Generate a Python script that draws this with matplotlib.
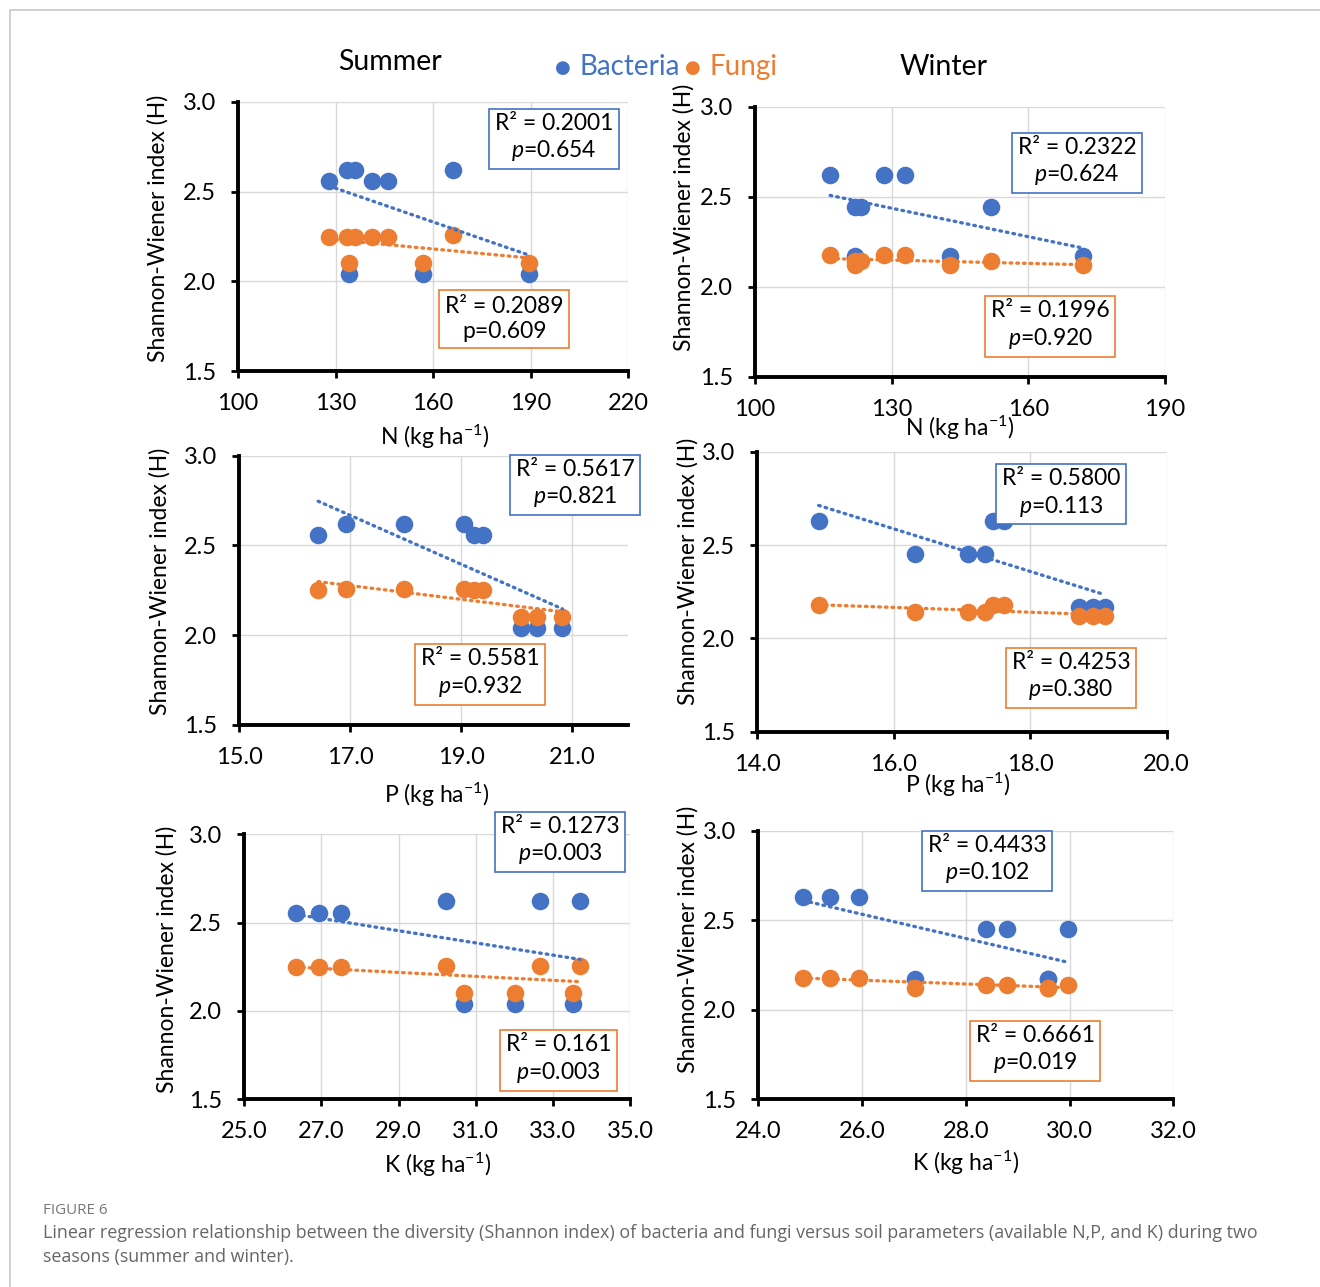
import numpy as np
import matplotlib
matplotlib.use("Agg")
import matplotlib.pyplot as plt
from matplotlib.patches import Rectangle

plt.rcParams['font.family'] = ['Lato', 'DejaVu Sans']
plt.rcParams['mathtext.fontset'] = 'custom'
plt.rcParams['mathtext.rm'] = 'Lato'
plt.rcParams['mathtext.it'] = 'Lato:italic'
plt.rcParams['mathtext.bf'] = 'Lato:bold'

BLUE = '#4472C4'
ORANGE = '#ED7D31'

# ---------------- data ----------------
# Summer N
sN_x_bac = [128, 133.4, 136, 141.2, 146.2, 166.2, 134.2, 157, 189.5]
sN_y_bac = [2.56, 2.62, 2.62, 2.56, 2.56, 2.62, 2.04, 2.04, 2.04]
sN_x_fun = [128, 133.4, 136, 141.2, 146.2, 166.2, 134.2, 157, 189.5]
sN_y_fun = [2.25, 2.25, 2.25, 2.25, 2.25, 2.26, 2.10, 2.10, 2.10]
# Winter N
wN_x_bac = [116.5, 128.3, 133, 122, 123.2, 151.8, 122, 142.7, 172]
wN_y_bac = [2.62, 2.62, 2.62, 2.445, 2.445, 2.445, 2.17, 2.17, 2.17]
wN_x_fun = [116.5, 128.3, 133, 122, 123.2, 151.8, 122, 142.7, 172]
wN_y_fun = [2.175, 2.175, 2.175, 2.14, 2.14, 2.14, 2.12, 2.12, 2.12]
# Summer P
sP_x_bac = [16.42, 16.93, 17.96, 19.05, 19.22, 19.38, 20.08, 20.36, 20.82]
sP_y_bac = [2.56, 2.62, 2.62, 2.62, 2.56, 2.56, 2.04, 2.04, 2.04]
sP_x_fun = [16.42, 16.93, 17.96, 19.05, 19.22, 19.38, 20.08, 20.36, 20.82]
sP_y_fun = [2.25, 2.26, 2.26, 2.26, 2.25, 2.25, 2.10, 2.10, 2.10]
# Winter P
wP_x_bac = [14.9, 17.45, 17.61, 16.31, 17.09, 17.33, 18.72, 18.92, 19.09]
wP_y_bac = [2.63, 2.63, 2.63, 2.45, 2.45, 2.45, 2.17, 2.17, 2.17]
wP_x_fun = [14.9, 17.45, 17.61, 16.31, 17.09, 17.33, 18.72, 18.92, 19.09]
wP_y_fun = [2.18, 2.18, 2.18, 2.14, 2.14, 2.14, 2.12, 2.12, 2.12]
# Summer K
sK_x_bac = [26.34, 26.93, 27.5, 30.22, 32.66, 33.7, 30.7, 32.03, 33.52]
sK_y_bac = [2.556, 2.556, 2.556, 2.62, 2.62, 2.62, 2.04, 2.04, 2.04]
sK_x_fun = [26.34, 26.93, 27.5, 30.22, 32.66, 33.7, 30.7, 32.03, 33.52]
sK_y_fun = [2.25, 2.25, 2.25, 2.255, 2.255, 2.255, 2.10, 2.10, 2.10]
# Winter K
wK_x_bac = [24.87, 25.39, 25.94, 28.39, 28.79, 29.97, 27.02, 29.59, 29.59]
wK_y_bac = [2.628, 2.628, 2.628, 2.45, 2.45, 2.45, 2.17, 2.17, 2.17]
wK_x_fun = [24.87, 25.39, 25.94, 28.39, 28.79, 29.97, 27.02, 29.59, 29.59]
wK_y_fun = [2.178, 2.178, 2.178, 2.14, 2.14, 2.14, 2.12, 2.12, 2.12]

# annotations
ann_bac = ["R² = 0.2001\n$p$=0.654", "R² = 0.2322\n$p$=0.624",
           "R² = 0.5617\n$p$=0.821", "R² = 0.5800\n$p$=0.113",
           "R² = 0.1273\n$p$=0.003", "R² = 0.4433\n$p$=0.102"]
ann_fun = ["R² = 0.2089\np=0.609", "R² = 0.1996\n$p$=0.920",
           "R² = 0.5581\n$p$=0.932", "R² = 0.4253\n$p$=0.380",
           "R² = 0.161\n$p$=0.003", "R² = 0.6661\n$p$=0.019"]

xlabels = ["N (kg ha$^{-1}$)", "N (kg ha$^{-1}$)", "P (kg ha$^{-1}$)",
           "P (kg ha$^{-1}$)", "K (kg ha$^{-1}$)", "K (kg ha$^{-1}$)"]
xticks_list = [[100, 130, 160, 190, 220], [100, 130, 160, 190],
               [15.0, 17.0, 19.0, 21.0], [14.0, 16.0, 18.0, 20.0],
               [25.0, 27.0, 29.0, 31.0, 33.0, 35.0], [24.0, 26.0, 28.0, 30.0, 32.0]]
xlims = [(100, 220), (100, 190), (15, 22), (14, 20), (25, 35), (24, 32)]
xfmt = ["{:.0f}", "{:.0f}", "{:.1f}", "{:.1f}", "{:.1f}", "{:.1f}"]
yticks = [1.5, 2.0, 2.5, 3.0]
ylabel = "Shannon-Wiener index (H)"

panels = [
    (sN_x_bac, sN_y_bac, sN_x_fun, sN_y_fun),
    (wN_x_bac, wN_y_bac, wN_x_fun, wN_y_fun),
    (sP_x_bac, sP_y_bac, sP_x_fun, sP_y_fun),
    (wP_x_bac, wP_y_bac, wP_x_fun, wP_y_fun),
    (sK_x_bac, sK_y_bac, sK_x_fun, sK_y_fun),
    (wK_x_bac, wK_y_bac, wK_x_fun, wK_y_fun),
]

# ---------------- layout ----------------
W, H = 1320, 1287
fig = plt.figure(figsize=(W / 100, H / 100), dpi=100)

axes_px = [  # left, top, right, bottom in pixels
    (238, 102, 628, 371),
    (755, 106.7, 1165, 376.7),
    (239.3, 455.7, 628, 725),
    (757.3, 451.7, 1166.7, 731.7),
    (244.3, 834.3, 630, 1099),
    (758.3, 830.7, 1173.3, 1099),
]
box_bac_pos = [(0.81, 0.866), (0.785, 0.795), (0.864, 0.895),
               (0.742, 0.852), (0.819, 0.975), (0.552, 0.891)]
box_fun_pos = [(0.683, 0.193), (0.72, 0.19), (0.619, 0.191),
               (0.766, 0.195), (0.815, 0.149), (0.667, 0.183)]
ylab_pos = [(-0.205, 0.53), (-0.173, 0.59), (-0.204, 0.535),
            (-0.169, 0.573), (-0.20, 0.528), (-0.169, 0.595)]
xlab_pos = [(0.503, -0.245), (0.50, -0.19), (0.508, -0.26),
            (0.49, -0.19), (0.50, -0.25), (0.50, -0.239)]

for i, (l, t, r, b) in enumerate(axes_px):
    ax = fig.add_axes([l / W, 1 - b / H, (r - l) / W, (b - t) / H])
    xb, yb, xf, yf = panels[i]
    ax.set_xlim(*xlims[i])
    ax.set_ylim(1.5, 3.0)
    ax.set_xticks(xticks_list[i])
    ax.set_xticklabels([xfmt[i].format(v) for v in xticks_list[i]], fontsize=17)
    ax.set_yticks(yticks)
    ax.set_yticklabels(["{:.1f}".format(v) for v in yticks], fontsize=17)
    ax.grid(True, color='#d9d9d9', lw=1)
    ax.set_axisbelow(True)
    for s in ['top', 'right']:
        ax.spines[s].set_visible(False)
    for s in ['left', 'bottom']:
        ax.spines[s].set_linewidth(2.8)
        ax.spines[s].set_zorder(5)
    ax.tick_params(axis='both', width=2, length=5)
    ax.tick_params(axis='x', pad=11)
    ax.tick_params(axis='y', pad=11)

    ax.scatter(xb, yb, s=160, color=BLUE, zorder=3, linewidths=0)
    ax.scatter(xf, yf, s=160, color=ORANGE, zorder=3, linewidths=0)
    for xs, ys, c in [(xb, yb, BLUE), (xf, yf, ORANGE)]:
        xs = np.asarray(xs, float)
        ys = np.asarray(ys, float)
        k, c0 = np.polyfit(xs, ys, 1)
        xx = np.array([xs.min(), xs.max()])
        ax.plot(xx, k * xx + c0, color=c, lw=2.4, linestyle=(0, (0.5, 1.5)),
                dash_capstyle='round', zorder=4)

    ax.text(*box_bac_pos[i], ann_bac[i], transform=ax.transAxes, ha='center',
            va='center', fontsize=16.5, linespacing=1.25, zorder=6,
            bbox=dict(boxstyle='square,pad=0.25', fc='white', ec=BLUE, lw=1.2))
    ax.text(*box_fun_pos[i], ann_fun[i], transform=ax.transAxes, ha='center',
            va='center', fontsize=16.5, linespacing=1.25, zorder=6,
            bbox=dict(boxstyle='square,pad=0.25', fc='white', ec=ORANGE, lw=1.2))

    ax.set_ylabel(ylabel, fontsize=16.5)
    ax.yaxis.set_label_coords(*ylab_pos[i])
    ax.yaxis.label.set_va('center')
    ax.set_xlabel(xlabels[i], fontsize=16.5)
    ax.xaxis.set_label_coords(*xlab_pos[i])
    ax.xaxis.label.set_va('center')

# titles and legend
fig.text(390 / W, 1 - 62 / H, "Summer", fontsize=20.5, ha='center', va='center')
fig.text(944 / W, 1 - 67 / H, "Winter", fontsize=20.5, ha='center', va='center')
fig.text(563 / W, 1 - 68 / H, "●", fontsize=13, color=BLUE, ha='center',
         va='center', family='DejaVu Sans')
fig.text(579 / W, 1 - 67 / H, "Bacteria", fontsize=20, color=BLUE, ha='left', va='center')
fig.text(693 / W, 1 - 68 / H, "●", fontsize=13, color=ORANGE, ha='center',
         va='center', family='DejaVu Sans')
fig.text(709 / W, 1 - 67 / H, "Fungi", fontsize=20, color=ORANGE, ha='left', va='center')

# frame and caption
fig.add_artist(Rectangle((10 / W, -0.2), 1.5, 1.2 - 10 / H, transform=fig.transFigure,
                         fill=False, ec='#c8c8c8', lw=1.2))
fig.text(43 / W, 1 - 1210 / H, "FIGURE 6", fontsize=10.9, color='#777777',
         ha='left', va='center', family='Open Sans')
fig.text(43 / W, 1 - 1233 / H,
         "Linear regression relationship between the diversity (Shannon index) of bacteria and fungi "
         "versus soil parameters (available N,P, and K) during two",
         fontsize=12.85, color='#666666', ha='left', va='center', family='Open Sans')
fig.text(43 / W, 1 - 1257 / H, "seasons (summer and winter).",
         fontsize=12.85, color='#666666', ha='left', va='center', family='Open Sans')

fig.savefig("out.png", dpi=100)
